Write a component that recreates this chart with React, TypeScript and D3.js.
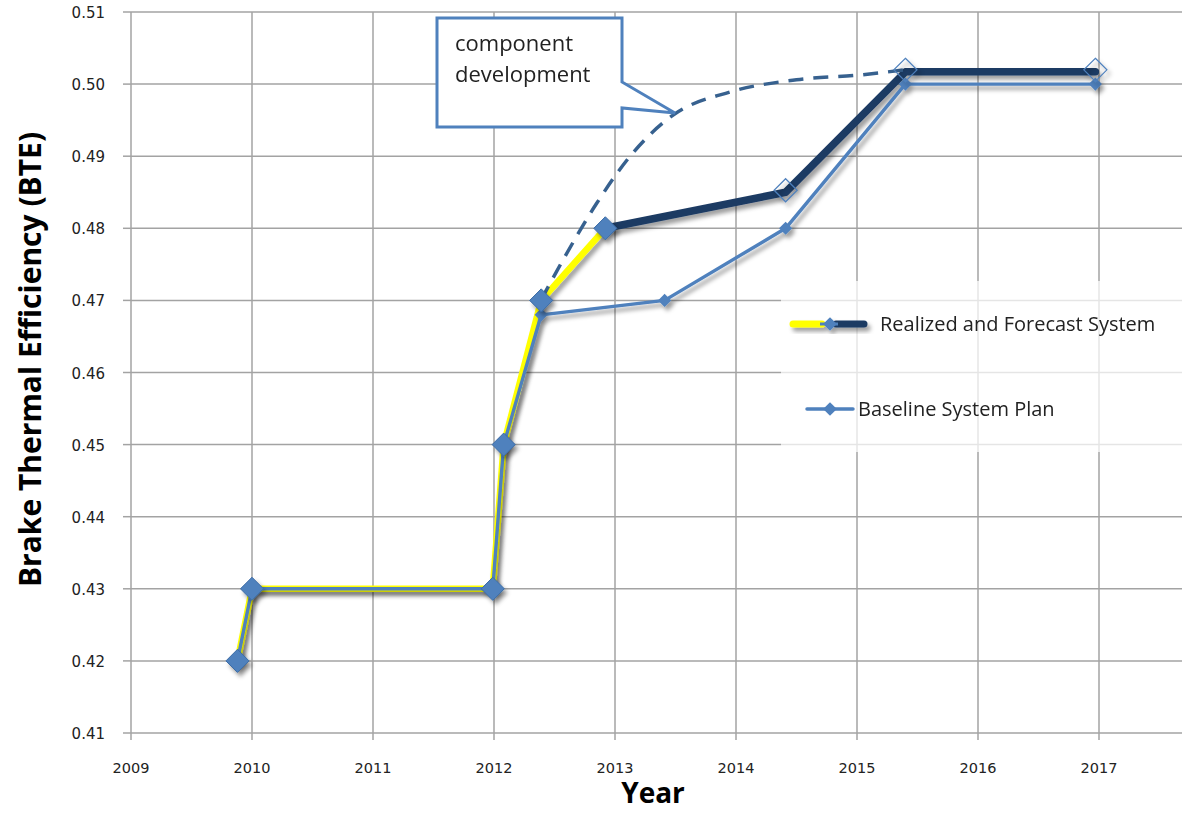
import React, { useEffect, useRef } from "react";
import * as d3 from "d3";

// ---- data ----
const X_TICKS = [2009, 2010, 2011, 2012, 2013, 2014, 2015, 2016, 2017];
const Y_TICKS = [0.41, 0.42, 0.43, 0.44, 0.45, 0.46, 0.47, 0.48, 0.49, 0.5, 0.51];

// realized part (yellow) and forecast part (dark navy) of the same series
const REALIZED_YEARS = [2009.88, 2010.0, 2011.99, 2012.08, 2012.39, 2012.92];
const REALIZED_BTE = [0.42, 0.43, 0.43, 0.45, 0.47, 0.48];
const FORECAST_YEARS = [2012.92, 2014.41, 2015.4, 2016.97];
const FORECAST_BTE = [0.48, 0.485, 0.5017, 0.5017];

const BASELINE_YEARS = [2009.88, 2010.0, 2011.99, 2012.08, 2012.39, 2013.41, 2014.41, 2015.4, 2016.97];
const BASELINE_BTE = [0.42, 0.43, 0.43, 0.45, 0.468, 0.47, 0.48, 0.5, 0.5];

// dashed "component development" curve
const COMPONENT_YEARS = [2012.39, 2012.57, 2012.85, 2013.12, 2013.48, 2013.95, 2014.5, 2015.05, 2015.4];
const COMPONENT_BTE = [0.4701, 0.4756, 0.4835, 0.4899, 0.4957, 0.4989, 0.5006, 0.5013, 0.502];

const LEGEND_LABELS = ["Realized and Forecast System", "Baseline System Plan"];
const CALLOUT_LINES = ["component", "development"];

const W = 1182;
const H = 814;
const PLOT = { left: 131, right: 1182, top: 12, bottom: 733 };

const COLORS = {
  grid: "#a3a3a3",
  yellow: "#ffff00",
  navy: "#1b3a63",
  blue: "#4f81bd",
  markerStroke: "#3c6ca6",
  dash: "#37618f",
  text: "#222",
};

const TICK_FONT = "'DejaVu Sans', sans-serif";
const LABEL_FONT = "'Open Sans', sans-serif";

type Pt = { x: number; y: number };
const zip = (xs: number[], ys: number[]): Pt[] => xs.map((x, i) => ({ x, y: ys[i] }));

function diamond(size: number) {
  return d3.symbol().type(d3.symbolDiamond2).size(size)();
}

function App() {
  const ref = useRef<SVGSVGElement | null>(null);

  useEffect(() => {
    const el = ref.current;
    if (!el) return;
    const svg = d3.select(el);
    svg.selectAll("*").remove();

    const x = d3.scaleLinear().domain([2009, 2009 + (PLOT.right - PLOT.left) / 121]).range([PLOT.left, PLOT.right]);
    const y = d3.scaleLinear().domain([0.41, 0.51]).range([PLOT.bottom, PLOT.top]);

    const defs = svg.append("defs");
    const f = defs.append("filter").attr("id", "shadow").attr("x", "-20%").attr("y", "-20%").attr("width", "140%").attr("height", "140%");
    f.append("feDropShadow").attr("dx", 3).attr("dy", 4).attr("stdDeviation", 2.2)
      .attr("flood-color", "#000").attr("flood-opacity", 0.38);

    // grid
    const grid = svg.append("g");
    grid.selectAll("line.h").data(Y_TICKS).join("line")
      .attr("x1", PLOT.left).attr("x2", PLOT.right)
      .attr("y1", (d) => y(d)).attr("y2", (d) => y(d))
      .attr("stroke", COLORS.grid).attr("stroke-width", 1.5);
    grid.selectAll("line.v").data(X_TICKS).join("line")
      .attr("x1", (d) => x(d)).attr("x2", (d) => x(d))
      .attr("y1", PLOT.top).attr("y2", PLOT.bottom + 7)
      .attr("stroke", COLORS.grid).attr("stroke-width", 1.5);
    grid.selectAll("line.t").data(Y_TICKS).join("line")
      .attr("x1", PLOT.left - 8).attr("x2", PLOT.left)
      .attr("y1", (d) => y(d)).attr("y2", (d) => y(d))
      .attr("stroke", COLORS.grid).attr("stroke-width", 1.5);

    // tick labels
    svg.append("g").selectAll("text").data(Y_TICKS).join("text")
      .attr("x", 105).attr("y", (d) => y(d) + 6)
      .attr("text-anchor", "end").attr("font-family", TICK_FONT).attr("font-size", 15)
      .attr("fill", COLORS.text).text((d) => d3.format(".2f")(d));
    svg.append("g").selectAll("text").data(X_TICKS).join("text")
      .attr("x", (d) => x(d)).attr("y", 773)
      .attr("text-anchor", "middle").attr("font-family", TICK_FONT).attr("font-size", 14.5)
      .attr("fill", COLORS.text).text((d) => String(d));

    // axis titles
    svg.append("text")
      .attr("transform", `translate(41,${(PLOT.top + PLOT.bottom) / 2 - 13}) rotate(-90)`)
      .attr("text-anchor", "middle").attr("font-family", LABEL_FONT).attr("font-weight", 700)
      .attr("font-size", 30).attr("fill", "#000").text("Brake Thermal Efficiency (BTE)");
    svg.append("text")
      .attr("x", 653).attr("y", 803).attr("text-anchor", "middle")
      .attr("font-family", LABEL_FONT).attr("font-weight", 700).attr("font-size", 28)
      .attr("fill", "#000").text("Year");

    const line = d3.line<Pt>().x((d) => x(d.x)).y((d) => y(d.y));

    // realized + forecast series with shadow
    const main = svg.append("g").attr("filter", "url(#shadow)");
    main.append("path").datum(zip(FORECAST_YEARS, FORECAST_BTE))
      .attr("d", line).attr("fill", "none").attr("stroke", COLORS.navy)
      .attr("stroke-width", 7.5).attr("stroke-linejoin", "round").attr("stroke-linecap", "round");
    main.append("path").datum(zip(REALIZED_YEARS, REALIZED_BTE))
      .attr("d", line).attr("fill", "none").attr("stroke", COLORS.yellow)
      .attr("stroke-width", 6.5).attr("stroke-linejoin", "round");

    // component development dashed curve
    svg.append("path").datum(zip(COMPONENT_YEARS, COMPONENT_BTE))
      .attr("d", d3.line<Pt>().x((d) => x(d.x)).y((d) => y(d.y)).curve(d3.curveMonotoneX))
      .attr("fill", "none").attr("stroke", COLORS.dash).attr("stroke-width", 3.5)
      .attr("stroke-dasharray", "15 10");

    // baseline
    const base = svg.append("g").attr("filter", "url(#shadow)");
    base.append("path").datum(zip(BASELINE_YEARS, BASELINE_BTE))
      .attr("d", line).attr("fill", "none").attr("stroke", COLORS.blue)
      .attr("stroke-width", 3.4).attr("stroke-linejoin", "round");
    base.selectAll("path.m").data(zip(BASELINE_YEARS, BASELINE_BTE)).join("path")
      .attr("transform", (d) => `translate(${x(d.x)},${y(d.y)})`)
      .attr("d", diamond(110)).attr("fill", COLORS.blue);

    // big markers
    const marks = svg.append("g").attr("filter", "url(#shadow)");
    marks.selectAll("path.r").data(zip(REALIZED_YEARS, REALIZED_BTE)).join("path")
      .attr("transform", (d) => `translate(${x(d.x)},${y(d.y)})`)
      .attr("d", diamond(340)).attr("fill", COLORS.blue)
      .attr("stroke", COLORS.markerStroke).attr("stroke-width", 1);
    marks.selectAll("path.f").data(zip(FORECAST_YEARS, FORECAST_BTE).slice(1)).join("path")
      .attr("transform", (d) => `translate(${x(d.x)},${y(d.y) - 2})`)
      .attr("d", diamond(340)).attr("fill", "none")
      .attr("stroke", COLORS.blue).attr("stroke-width", 1.2);

    // legend
    const lg = svg.append("g");
    lg.append("rect").attr("x", 781).attr("y", 281).attr("width", W - 781).attr("height", 171)
      .attr("fill", "#fff").attr("fill-opacity", 0.72);
    const l1 = lg.append("g").attr("filter", "url(#shadow)");
    l1.append("line").attr("x1", 793).attr("x2", 822).attr("y1", 324).attr("y2", 324)
      .attr("stroke", COLORS.yellow).attr("stroke-width", 7).attr("stroke-linecap", "round");
    l1.append("line").attr("x1", 836).attr("x2", 864).attr("y1", 324).attr("y2", 324)
      .attr("stroke", COLORS.navy).attr("stroke-width", 7).attr("stroke-linecap", "round");
    l1.append("line").attr("x1", 820).attr("x2", 838).attr("y1", 324).attr("y2", 324)
      .attr("stroke", COLORS.blue).attr("stroke-width", 3);
    l1.append("path").attr("transform", "translate(830,324)").attr("d", diamond(120)).attr("fill", COLORS.blue);
    lg.append("text").attr("x", 880).attr("y", 331)
      .attr("font-family", LABEL_FONT).attr("font-size", 20).attr("fill", COLORS.text)
      .text(LEGEND_LABELS[0]);
    lg.append("line").attr("x1", 807).attr("x2", 853).attr("y1", 409).attr("y2", 409)
      .attr("stroke", COLORS.blue).attr("stroke-width", 3.5).attr("stroke-linecap", "round");
    lg.append("path").attr("transform", "translate(830,409)").attr("d", diamond(120)).attr("fill", COLORS.blue);
    lg.append("text").attr("x", 858).attr("y", 416)
      .attr("font-family", LABEL_FONT).attr("font-size", 20).attr("fill", COLORS.text)
      .text(LEGEND_LABELS[1]);

    // callout
    const co = svg.append("g");
    co.append("path")
      .attr("d", "M437,18 H622 V82 L675,113 L622,108 V127 H437 Z")
      .attr("fill", "#fff").attr("stroke", COLORS.blue).attr("stroke-width", 3)
      .attr("stroke-linejoin", "miter");
    co.selectAll("text").data(CALLOUT_LINES).join("text")
      .attr("x", 455).attr("y", (_d, i) => 51 + i * 31)
      .attr("font-family", LABEL_FONT).attr("font-size", 22).attr("fill", COLORS.text)
      .text((d) => d);
  }, []);

  return (
    <svg
      ref={ref}
      width={W}
      height={H}
      viewBox={`0 0 ${W} ${H}`}
      style={{ position: "absolute", left: 0, top: 0, background: "#fff" }}
    />
  );
}

export default App;
